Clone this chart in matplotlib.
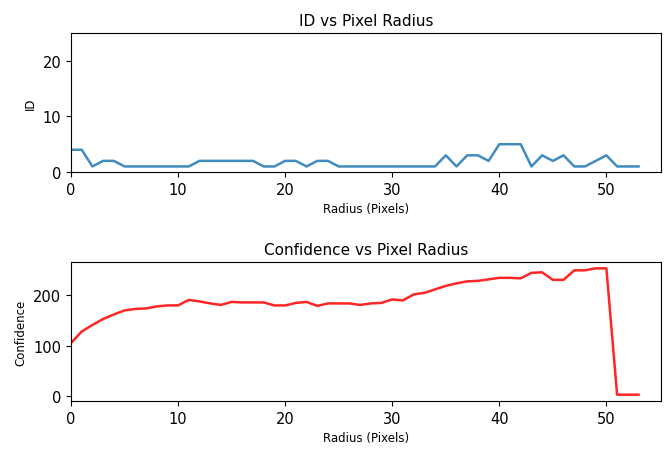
import matplotlib
matplotlib.use('Agg')
import matplotlib.pyplot as plt
import numpy as np

# Radius in pixels (x axis, shared by both panels)
radius = np.arange(54)

# ID per radius
ids = [4, 4, 1, 2, 2, 1, 1, 1, 1, 1, 1, 1, 2, 2, 2, 2, 2, 2, 1, 1,
       2, 2, 1, 2, 2, 1, 1, 1, 1, 1, 1, 1, 1, 1, 1, 3, 1, 3, 3, 2,
       5, 5, 5, 1, 3, 2, 3, 1, 1, 2, 3, 1, 1, 1]

# Confidence per radius
confidence = [105, 128, 141, 153, 162, 170, 173, 174, 178, 180,
              180, 191, 188, 184, 181, 187, 186, 186, 186, 180,
              180, 185, 187, 179, 184, 184, 184, 181, 184, 185,
              192, 190, 202, 205, 212, 219, 224, 228, 229, 232,
              235, 235, 234, 245, 246, 231, 231, 250, 250, 254,
              254, 2, 2, 2]

fig = plt.figure(figsize=(6.69, 4.52), dpi=100)

# Top panel: ID
ax1 = fig.add_axes([71 / 669, 1 - 173 / 452, 590 / 669, 139 / 452])
ax1.plot(radius, ids, color='#1f77b4', alpha=0.85, linewidth=1.8)
ax1.set_xlim(0, 55.1)
ax1.set_ylim(0, 25)
ax1.set_yticks([0, 10, 20])
ax1.set_title('ID vs Pixel Radius', fontsize=11)
ax1.set_xlabel('Radius (Pixels)', fontsize=8.5)
ax1.set_ylabel('ID', fontsize=8.5)

# Bottom panel: Confidence
ax2 = fig.add_axes([71 / 669, 1 - 402 / 452, 590 / 669, 139 / 452])
ax2.plot(radius, confidence, color='red', alpha=0.85, linewidth=1.8)
ax2.set_xlim(0, 55.1)
ax2.set_yticks([0, 100, 200])
ax2.set_title('Confidence vs Pixel Radius', fontsize=11)
ax2.set_xlabel('Radius (Pixels)', fontsize=8.5)
ax2.set_ylabel('Confidence', fontsize=8.5)

for ax in (ax1, ax2):
    ax.set_xticks([0, 10, 20, 30, 40, 50])
    ax.tick_params(labelsize=10.5)

fig.savefig('out.png', dpi=100)
